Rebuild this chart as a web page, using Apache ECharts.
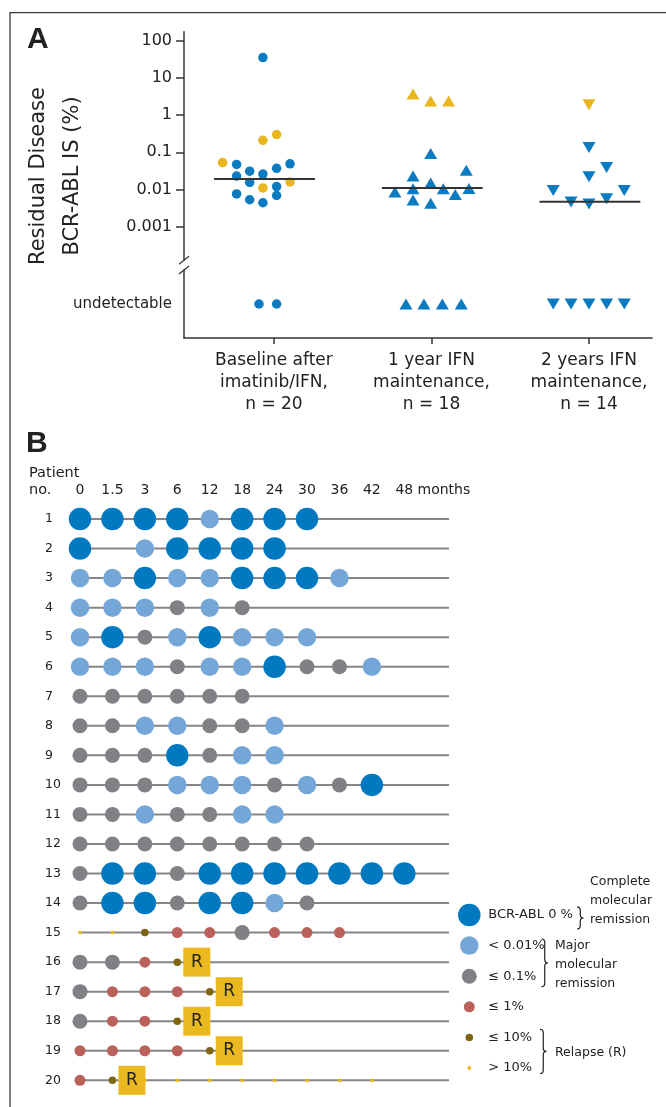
<!DOCTYPE html>
<html>
<head>
<meta charset="utf-8">
<script src="https://cdn.jsdelivr.net/npm/echarts@6.0.0/dist/echarts.min.js"></script>
<style>
  html, body { margin: 0; padding: 0; background: #fff; }
  #chart { width: 666px; height: 1107px; }
</style>
</head>
<body>
<div id="chart"></div>
<script>
// ---------- Panel A: residual disease (BCR-ABL IS %) per time point ----------
const groupLabels = [
  'Baseline after\nimatinib/IFN,\nn = 20',
  '1 year IFN\nmaintenance,\nn = 18',
  '2 years IFN\nmaintenance,\nn = 14'
];
const yTickValues = [0.001, 0.01, 0.1, 1, 10, 100];
const undetectableLabel = 'undetectable';

// Each point: [horizontal jitter within its group, BCR-ABL IS %]
const baselineBlue = [
  [-0.07, 35], [-0.237, 0.047], [0.102, 0.049], [0.017, 0.037], [-0.154, 0.031],
  [-0.07, 0.026], [-0.237, 0.023], [-0.154, 0.0155], [0.017, 0.012], [-0.237, 0.0076],
  [0.017, 0.0069], [-0.154, 0.0053], [-0.07, 0.0044]
];
const baselineYellow = [[-0.07, 0.21], [0.017, 0.30], [-0.326, 0.053], [0.102, 0.016], [-0.07, 0.011]];
const baselineUndetectable = [-0.095, 0.017];

const year1Blue = [
  [-0.005, 0.093], [0.221, 0.033], [-0.117, 0.023], [-0.005, 0.015], [-0.117, 0.0104],
  [0.075, 0.0104], [0.238, 0.0107], [-0.232, 0.0085], [0.151, 0.0073], [-0.117, 0.0052],
  [-0.005, 0.0043]
];
const year1Yellow = [[-0.117, 3.7], [-0.005, 2.4], [0.109, 2.4]];
const year1Undetectable = [-0.162, -0.048, 0.069, 0.189];

const year2Blue = [
  [0, 0.135], [0.112, 0.039], [0, 0.022], [-0.227, 0.0094], [0.224, 0.0094],
  [-0.114, 0.0046], [0, 0.0041], [0.112, 0.0056]
];
const year2Yellow = [[0, 1.9]];
const year2Undetectable = [-0.227, -0.114, 0, 0.112, 0.224];

const medians = [0.019, 0.011, 0.0047];

// ---------- Panel B: molecular course per patient ----------
const months = ['0', '1.5', '3', '6', '12', '18', '24', '30', '36', '42', '48'];
const monthsUnit = 'months';
const patients = ['1','2','3','4','5','6','7','8','9','10','11','12','13','14','15','16','17','18','19','20'];
// One character per time point:
// C = BCR-ABL 0 %, M = < 0.01%, G = <= 0.1%, D = <= 1%, O = <= 10%, Y = > 10%, '.' = no sample
const courses = [
  'CCCCMCCC',
  'C.MCCCC',
  'MMCMMCCCM',
  'MMMGMG',
  'MCGMCMMM',
  'MMMGMMCGGM',
  'GGGGGG',
  'GGMMGGM',
  'GGGCGMM',
  'GGGMMMGMGC',
  'GGMGGMM',
  'GGGGGGGG',
  'GCCGCCCCCCC',
  'GCCGCCMG',
  'YYODDGDDD',
  'GGDO',
  'GDDDO',
  'GDDO',
  'DDDDO',
  'DOYYYYYYYY'
];
// Relapse flag: [patient, index of the time point the relapse follows]
const relapses = [['16', 3], ['17', 4], ['18', 3], ['19', 4], ['20', 1]];

const levelOrder = ['C', 'M', 'G', 'D', 'O', 'Y'];
const levelLabels = ['BCR-ABL 0 %', '< 0.01%', '\u2264 0.1%', '\u2264 1%', '\u2264 10%', '> 10%'];

// ---------- styles ----------
const FONT = 'DejaVu Sans';
const INK = '#222';
const AXIS = '#333';
const BLUE = '#0a7bc1';
const GOLD = '#e8b620';
const levelColor = { C: '#0079c1', M: '#74a7d8', G: '#808185', D: '#b9615a', O: '#7d6512', Y: '#e9b91f' };
const levelSize = { C: 22.5, M: 18.5, G: 15, D: 11, O: 7.5, Y: 3.8 };

// layout (pixels)
const A_LEFT = 184, A_RIGHT = 652, A_TOP = 31.7, A_BREAK = 260.2, A_LOWER_TOP = 270, A_BOTTOM = 338;
const H = 1107, W = 666;
const X_MIN = -0.571, X_MAX = 2.4;          // group index units
const swarmCentre = [-0.06, 0.005, 0.006];
const medianHalf = 0.32;
const B_LEFT = 80, B_END = 449, B_TOP = 519, B_BOTTOM = 1080.3, B_STEP = 32.43;
const B_XMAX = (B_END - B_LEFT) / B_STEP;
const LEG_X = 469.3, LEG_TEXT = 488.3, LEG_TOP = 915, LEG_BOTTOM = 1068;

const chart = echarts.init(document.getElementById('chart'), null, { renderer: 'canvas' });

const shift = (g, arr) => arr.map(([j, v]) => [g + j, v]);
const undet = (g, arr) => arr.map(j => [g + j, undetectableLabel]);

const circle = { symbol: 'circle', symbolSize: 9.5 };
const up = { symbol: 'triangle', symbolSize: [13, 11] };
const down = { symbol: 'triangle', symbolSize: [13, 11], symbolRotate: 180 };

function scatterA(data, shape, color, grid) {
  return Object.assign({
    type: 'scatter', xAxisIndex: grid, yAxisIndex: grid, data: data,
    itemStyle: { color: color, opacity: 1 }, silent: true, z: 3
  }, shape);
}

// per-level dots of panel B
const dots = {};
levelOrder.forEach(c => { dots[c] = []; });
courses.forEach((s, r) => {
  s.split('').forEach((c, t) => { if (dots[c]) dots[c].push([t, patients[r]]); });
});

const seriesB = levelOrder.map(c => ({
  type: 'scatter', xAxisIndex: 2, yAxisIndex: 2, data: dots[c],
  symbol: 'circle', symbolSize: levelSize[c],
  itemStyle: { color: levelColor[c], opacity: 1 }, silent: true, z: 3
}));

const noSplit = { show: false };

const option = {
  animation: false,
  backgroundColor: '#fff',
  textStyle: { fontFamily: FONT, color: INK },
  grid: [
    { left: A_LEFT, right: W - A_RIGHT, top: A_TOP, bottom: H - A_BREAK, outerBoundsMode: 'none' },
    { left: A_LEFT, right: W - A_RIGHT, top: A_LOWER_TOP, bottom: H - A_BOTTOM, outerBoundsMode: 'none' },
    { left: B_LEFT, right: W - B_END, top: B_TOP, bottom: H - B_BOTTOM, outerBoundsMode: 'none' },
    { left: LEG_X, right: W - LEG_TEXT, top: LEG_TOP, bottom: H - LEG_BOTTOM, outerBoundsMode: 'none' }
  ],
  xAxis: [
    { gridIndex: 0, type: 'value', min: X_MIN, max: X_MAX, show: false, splitLine: noSplit },
    {
      gridIndex: 1, type: 'value', min: X_MIN, max: X_MAX, splitLine: noSplit,
      axisLine: { show: true, onZero: false, lineStyle: { color: AXIS, width: 1.5 } },
      axisTick: { show: true, customValues: [0, 1, 2], length: 6, lineStyle: { color: AXIS, width: 1.5 } },
      axisLabel: {
        customValues: [0, 1, 2], formatter: v => groupLabels[Math.round(v)],
        fontSize: 17, lineHeight: 22, margin: 12, color: INK, fontFamily: FONT
      }
    },
    {
      gridIndex: 2, type: 'value', position: 'top', min: 0, max: B_XMAX, splitLine: noSplit,
      axisLine: { show: false }, axisTick: { show: false },
      axisLabel: {
        customValues: months.map((m, i) => i).concat([11.22]),
        formatter: v => (v > 10.5 ? monthsUnit : months[Math.round(v)]),
        fontSize: 14, margin: 22, color: INK, fontFamily: FONT
      }
    },
    { gridIndex: 3, type: 'value', min: 0, max: 1, show: false, splitLine: noSplit }
  ],
  yAxis: [
    {
      gridIndex: 0, type: 'log', logBase: 10, min: Math.pow(10, -3.9), max: Math.pow(10, 2.24),
      splitLine: noSplit,
      axisLine: { show: true, onZero: false, lineStyle: { color: AXIS, width: 1.5 } },
      axisTick: { show: true, customValues: yTickValues, length: 8, lineStyle: { color: AXIS, width: 1.5 } },
      axisLabel: {
        customValues: yTickValues, formatter: v => String(Number(Number(v).toPrecision(2))),
        fontSize: 16, margin: 12, color: INK, fontFamily: FONT
      }
    },
    {
      gridIndex: 1, type: 'category', data: [undetectableLabel],
      axisLine: { show: true, onZero: false, lineStyle: { color: AXIS, width: 1.5 } },
      axisTick: { show: false },
      axisLabel: { fontSize: 15, margin: 12, color: INK, fontFamily: FONT }
    },
    {
      gridIndex: 2, type: 'category', data: patients, inverse: true, boundaryGap: false,
      axisLine: { show: false }, axisTick: { show: false },
      axisLabel: { align: 'left', margin: 35, fontSize: 12.5, color: INK, fontFamily: FONT }
    },
    { gridIndex: 3, type: 'category', data: levelOrder, inverse: true, boundaryGap: false, show: false }
  ],
  series: [
    // panel A, detectable values
    scatterA(shift(0, baselineBlue), circle, BLUE, 0),
    scatterA(shift(0, baselineYellow), circle, GOLD, 0),
    scatterA(shift(1, year1Blue), up, BLUE, 0),
    scatterA(shift(1, year1Yellow), up, GOLD, 0),
    scatterA(shift(2, year2Blue), down, BLUE, 0),
    scatterA(shift(2, year2Yellow), down, GOLD, 0),
    // panel A, undetectable
    scatterA(undet(0, baselineUndetectable), circle, BLUE, 1),
    scatterA(undet(1, year1Undetectable), up, BLUE, 1),
    scatterA(undet(2, year2Undetectable), down, BLUE, 1),
    // medians
    {
      type: 'custom', xAxisIndex: 0, yAxisIndex: 0, silent: true, z: 4,
      data: medians.map((m, i) => [i, m]),
      encode: { x: 0, y: 1 },
      renderItem: (params, api) => {
        const g = api.value(0), m = api.value(1);
        const a = api.coord([g + swarmCentre[g] - medianHalf, m]);
        const b = api.coord([g + swarmCentre[g] + medianHalf, m]);
        return { type: 'line', shape: { x1: a[0], y1: a[1], x2: b[0], y2: b[1] },
                 style: { stroke: AXIS, lineWidth: 2 } };
      }
    },
    // panel B, patient time lines
    {
      type: 'custom', xAxisIndex: 2, yAxisIndex: 2, silent: true, z: 1,
      data: patients.map(p => [0, p]),
      encode: { x: 0, y: 1 },
      renderItem: (params, api) => {
        const r = api.value(1);
        const a = api.coord([0, r]);
        const b = api.coord([B_XMAX, r]);
        return { type: 'line', shape: { x1: a[0], y1: a[1], x2: b[0], y2: b[1] },
                 style: { stroke: '#858585', lineWidth: 2 } };
      }
    },
    ...seriesB,
    // relapse flags
    {
      type: 'scatter', xAxisIndex: 2, yAxisIndex: 2, silent: true, z: 5,
      data: relapses.map(([p, t]) => [t, p]),
      symbol: 'rect', symbolSize: [27, 29], symbolOffset: [19.5, 0],
      itemStyle: { color: '#e9b91f', opacity: 1 },
      label: { show: true, position: 'inside', formatter: 'R', fontSize: 17, color: INK, fontFamily: FONT }
    },
    // key
    {
      type: 'scatter', xAxisIndex: 3, yAxisIndex: 3, silent: true, z: 3,
      data: levelOrder.map((c, i) => ({
        value: [0, i], symbolSize: levelSize[c],
        itemStyle: { color: levelColor[c], opacity: 1 },
        label: { distance: (LEG_TEXT - LEG_X) - levelSize[c] / 2 }
      })),
      symbol: 'circle',
      label: {
        show: true, position: 'right', formatter: p => levelLabels[p.dataIndex],
        fontSize: 13, color: INK, fontFamily: FONT
      }
    }
  ]
};

chart.setOption(option);

// ---------- annotations ----------
// curly brace opening to the left, tip pointing right, drawn as a sampled polyline
function bracePoints(x0, y1, y2, w) {
  const x1 = x0 + w * 0.5, x2 = x0 + w, ym = (y1 + y2) / 2, r = Math.min(3.5, (y2 - y1) / 6);
  const pts = [];
  const quad = (p0, c, p1) => {
    for (let k = 0; k <= 6; k++) {
      const t = k / 6, u = 1 - t;
      pts.push([u * u * p0[0] + 2 * u * t * c[0] + t * t * p1[0],
                u * u * p0[1] + 2 * u * t * c[1] + t * t * p1[1]]);
    }
  };
  quad([x0, y1], [x1, y1], [x1, y1 + r]);
  quad([x1, ym - r], [x1, ym], [x2, ym]);
  quad([x2, ym], [x1, ym], [x1, ym + r]);
  quad([x1, y2 - r], [x1, y2], [x0, y2]);
  return pts;
}
const rowY = i => chart.convertToPixel({ gridIndex: 3 }, [0, i])[1];

function txt(x, y, text, size, extra) {
  return {
    type: 'text', x: x, y: y, silent: true,
    style: Object.assign({ text: text, fontSize: size, fontFamily: FONT, fill: INK,
      align: 'left', verticalAlign: 'middle' }, extra || {})
  };
}
const braceStyle = { stroke: INK, lineWidth: 1.2, fill: null };
const braceEl = (x0, y1, y2) => ({ type: 'polyline', silent: true,
  shape: { points: bracePoints(x0, y1, y2, 6.5) }, style: braceStyle });

const graphics = [
  { type: 'polyline', silent: true, shape: { points: [[10, H], [10, 12.7], [W, 12.7]] },
    style: { stroke: '#3a3a3a', lineWidth: 1.3, fill: null } },
  txt(27, 40, 'A', 30, { fontWeight: 'bold', fontFamily: 'Liberation Sans' }),
  txt(26, 444, 'B', 30, { fontWeight: 'bold', fontFamily: 'Liberation Sans' }),
  { type: 'text', x: 55.4, y: 176, rotation: Math.PI / 2, silent: true,
    style: { text: 'Residual Disease\nBCR-ABL IS (%)', fontSize: 21, lineHeight: 34,
      fontFamily: FONT, fill: INK, align: 'center', verticalAlign: 'middle' } },
  txt(29, 473.5, 'Patient', 14.5),
  txt(29, 490, 'no.', 14.5),
  // axis break marks
  { type: 'line', silent: true, shape: { x1: A_LEFT - 5, y1: A_BREAK + 4, x2: A_LEFT + 5, y2: A_BREAK - 4 },
    style: { stroke: AXIS, lineWidth: 1.3 } },
  { type: 'line', silent: true, shape: { x1: A_LEFT - 5, y1: A_LOWER_TOP + 4, x2: A_LEFT + 5, y2: A_LOWER_TOP - 4 },
    style: { stroke: AXIS, lineWidth: 1.3 } }
];

const r0 = rowY(0), r1 = rowY(1), r2 = rowY(2), r4 = rowY(4), r5 = rowY(5);
graphics.push(
  braceEl(577, r0 - 8, r0 + 14),
  txt(590, r0 - 14, 'Complete\nmolecular\nremission', 12.5, { lineHeight: 19 }),
  braceEl(541.5, r1 - 6.5, r2 + 10.5),
  txt(555, (r1 + r2) / 2 + 3.5, 'Major\nmolecular\nremission', 12.5, { lineHeight: 19 }),
  braceEl(540, r4 - 8, r5 + 5.5),
  txt(555, (r4 + r5) / 2, 'Relapse (R)', 12.5)
);

chart.setOption({ graphic: graphics });
</script>
</body>
</html>
